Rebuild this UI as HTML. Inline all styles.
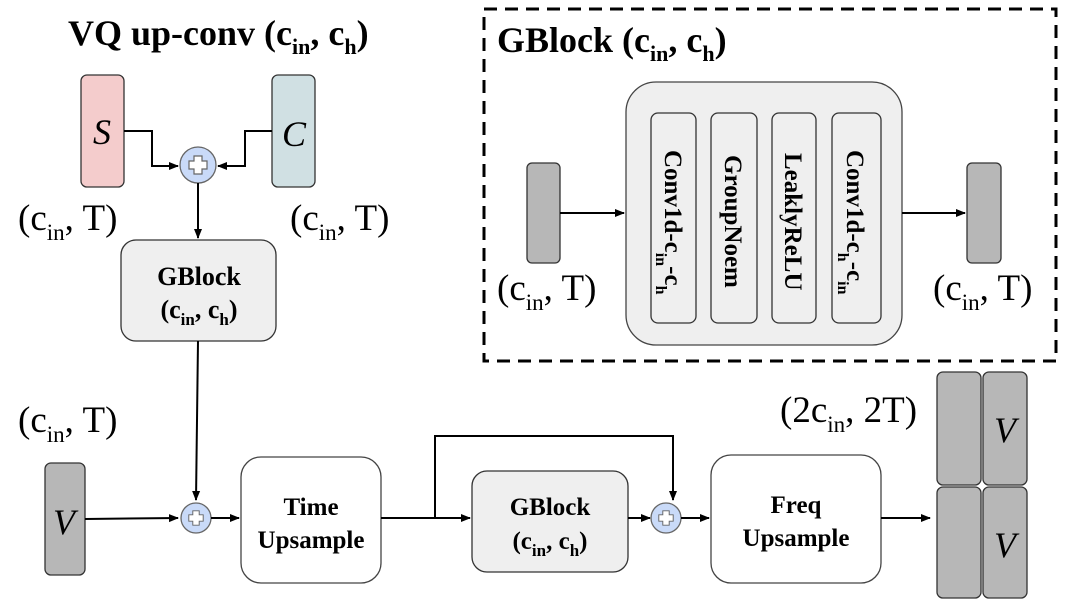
<!DOCTYPE html>
<html><head><meta charset="utf-8"><style>
html,body{margin:0;padding:0;background:#fff;}
svg{display:block;font-family:"Liberation Serif",serif;}
</style></head><body>
<svg width="1065" height="606" viewBox="0 0 1065 606" xmlns="http://www.w3.org/2000/svg">
<defs>
<marker id="a" markerWidth="10" markerHeight="10" refX="9" refY="5" orient="auto" markerUnits="userSpaceOnUse"><path d="M0,1 L10,5 L0,9 Z" fill="#000"/></marker>
<g id="plus"><path d="M-4,-9 H4 V-4 H9 V4 H4 V9 H-4 V4 H-9 V-4 H-4 Z" fill="#fff" stroke="#666" stroke-width="1.2"/></g>
</defs>
<!-- Title -->
<text x="68" y="45" font-size="36" font-weight="bold">VQ up-conv (c<tspan font-size="22" dy="9">in</tspan><tspan dy="-9">, c</tspan><tspan font-size="22" dy="9">h</tspan><tspan dy="-9">)</tspan></text>
<rect x="81" y="75" width="43" height="112" rx="6" fill="#f4cccc" stroke="#333" stroke-width="1.3"/>
<text x="102" y="144" font-size="36" font-style="italic" text-anchor="middle">S</text>
<rect x="272" y="75" width="43" height="112" rx="6" fill="#d0e0e3" stroke="#333" stroke-width="1.3"/>
<text x="294" y="146" font-size="36" font-style="italic" text-anchor="middle">C</text>
<path d="M124,131 H152 V166 H178" fill="none" stroke="#000" stroke-width="2" marker-end="url(#a)"/>
<path d="M272,131 H245 V166 H218" fill="none" stroke="#000" stroke-width="2" marker-end="url(#a)"/>
<circle cx="198" cy="165" r="18" fill="#c9daf8" stroke="#666" stroke-width="1.3"/>
<use href="#plus" x="198" y="165"/>
<path d="M198,183 V238" stroke="#000" stroke-width="2" marker-end="url(#a)"/>
<text x="18" y="230" font-size="37">(c<tspan font-size="23" dy="10">in</tspan><tspan dy="-10">, T)</tspan></text>
<text x="290" y="230" font-size="37">(c<tspan font-size="23" dy="10">in</tspan><tspan dy="-10">, T)</tspan></text>
<rect x="121" y="240" width="155" height="101" rx="15" fill="#efefef" stroke="#333" stroke-width="1.3"/>
<text x="199" y="285" font-size="26" font-weight="bold" text-anchor="middle">GBlock</text>
<text x="199" y="318" font-size="26" font-weight="bold" text-anchor="middle">(c<tspan font-size="17" dy="7">in</tspan><tspan dy="-7">, c</tspan><tspan font-size="17" dy="7">h</tspan><tspan dy="-7">)</tspan></text>
<path d="M198,341 L196,500" stroke="#000" stroke-width="2" marker-end="url(#a)"/>

<!-- Dashed GBlock -->
<rect x="484" y="9" width="572" height="352" fill="none" stroke="#000" stroke-width="3" stroke-dasharray="13,8"/>
<text x="497" y="52" font-size="36" font-weight="bold">GBlock (c<tspan font-size="22" dy="9">in</tspan><tspan dy="-9">, c</tspan><tspan font-size="22" dy="9">h</tspan><tspan dy="-9">)</tspan></text>
<rect x="626" y="82" width="276" height="263" rx="30" fill="#efefef" stroke="#444" stroke-width="1.3"/>
<rect x="651" y="113" width="45" height="210" rx="7" fill="#efefef" stroke="#333" stroke-width="1.3"/>
<rect x="711" y="113" width="46" height="210" rx="7" fill="#efefef" stroke="#333" stroke-width="1.3"/>
<rect x="772" y="113" width="44" height="210" rx="7" fill="#efefef" stroke="#333" stroke-width="1.3"/>
<rect x="832" y="113" width="49" height="210" rx="7" fill="#efefef" stroke="#333" stroke-width="1.3"/>
<g font-size="25" font-weight="bold">
<text transform="translate(665,150) rotate(90)">Conv1d-c<tspan font-size="16" dy="9">in</tspan><tspan dy="-9">-c</tspan><tspan font-size="16" dy="9">h</tspan></text>
<text transform="translate(725,155) rotate(90)">GroupNoem</text>
<text transform="translate(785,153) rotate(90)">LeaklyReLU</text>
<text transform="translate(847,150) rotate(90)">Conv1d-c<tspan font-size="16" dy="9">h</tspan><tspan dy="-9">-c</tspan><tspan font-size="16" dy="9">in</tspan></text>
</g>
<rect x="527" y="163" width="33" height="100" rx="5" fill="#b7b7b7" stroke="#333" stroke-width="1.3"/>
<rect x="967" y="163" width="34" height="100" rx="5" fill="#b7b7b7" stroke="#333" stroke-width="1.3"/>
<path d="M560,213 H624" stroke="#000" stroke-width="2" marker-end="url(#a)"/>
<path d="M902,213 H965" stroke="#000" stroke-width="2" marker-end="url(#a)"/>
<text x="497" y="300" font-size="37">(c<tspan font-size="23" dy="10">in</tspan><tspan dy="-10">, T)</tspan></text>
<text x="933" y="300" font-size="37">(c<tspan font-size="23" dy="10">in</tspan><tspan dy="-10">, T)</tspan></text>

<!-- Bottom row -->
<text x="18" y="432" font-size="37">(c<tspan font-size="23" dy="10">in</tspan><tspan dy="-10">, T)</tspan></text>
<rect x="45" y="463" width="40" height="112" rx="6" fill="#b7b7b7" stroke="#333" stroke-width="1.3"/>
<text x="64" y="534" font-size="36" font-style="italic" text-anchor="middle">V</text>
<path d="M85,519 L178,518" stroke="#000" stroke-width="2" marker-end="url(#a)"/>
<circle cx="196" cy="518" r="15" fill="#c9daf8" stroke="#666" stroke-width="1.3"/>
<use href="#plus" x="196" y="518" transform="translate(196,518) scale(0.8) translate(-196,-518)"/>
<path d="M211,518 H239" stroke="#000" stroke-width="2" marker-end="url(#a)"/>
<rect x="241" y="457" width="140" height="126" rx="20" fill="#fff" stroke="#444" stroke-width="1.3"/>
<text x="311" y="515" font-size="25" font-weight="bold" text-anchor="middle">Time</text>
<text x="311" y="548" font-size="25" font-weight="bold" text-anchor="middle">Upsample</text>
<path d="M381,518 H470" stroke="#000" stroke-width="2" marker-end="url(#a)"/>
<path d="M435,518 V436 H673 V500" fill="none" stroke="#000" stroke-width="2" marker-end="url(#a)"/>
<rect x="472" y="471" width="156" height="101" rx="15" fill="#efefef" stroke="#333" stroke-width="1.3"/>
<text x="550" y="515" font-size="25" font-weight="bold" text-anchor="middle">GBlock</text>
<text x="550" y="549" font-size="25" font-weight="bold" text-anchor="middle">(c<tspan font-size="17" dy="7">in</tspan><tspan dy="-7">, c</tspan><tspan font-size="17" dy="7">h</tspan><tspan dy="-7">)</tspan></text>
<path d="M628,518 H650" stroke="#000" stroke-width="2" marker-end="url(#a)"/>
<circle cx="666" cy="518" r="15" fill="#c9daf8" stroke="#666" stroke-width="1.3"/>
<use href="#plus" x="666" y="518" transform="translate(666,518) scale(0.8) translate(-666,-518)"/>
<path d="M681,518 H709" stroke="#000" stroke-width="2" marker-end="url(#a)"/>
<rect x="711" y="455" width="170" height="128" rx="20" fill="#fff" stroke="#444" stroke-width="1.3"/>
<text x="796" y="513" font-size="25" font-weight="bold" text-anchor="middle">Freq</text>
<text x="796" y="546" font-size="25" font-weight="bold" text-anchor="middle">Upsample</text>
<path d="M881,518 H930" stroke="#000" stroke-width="2" marker-end="url(#a)"/>
<text x="780" y="422" font-size="37">(2c<tspan font-size="23" dy="10">in</tspan><tspan dy="-10">, 2T)</tspan></text>
<rect x="937" y="372" width="44" height="113" rx="6" fill="#b7b7b7" stroke="#333" stroke-width="1.3"/>
<rect x="983" y="372" width="44" height="113" rx="6" fill="#b7b7b7" stroke="#333" stroke-width="1.3"/>
<rect x="937" y="487" width="44" height="111" rx="6" fill="#b7b7b7" stroke="#333" stroke-width="1.3"/>
<rect x="983" y="487" width="44" height="111" rx="6" fill="#b7b7b7" stroke="#333" stroke-width="1.3"/>
<text x="1005" y="442" font-size="36" font-style="italic" text-anchor="middle">V</text>
<text x="1005" y="557" font-size="36" font-style="italic" text-anchor="middle">V</text>
</svg>
</body></html>
